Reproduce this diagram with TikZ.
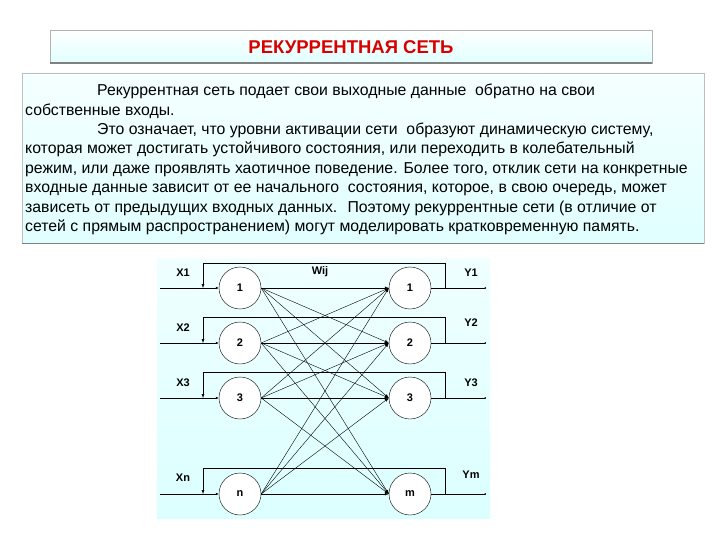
\documentclass[tikz,border=0pt]{standalone}
\usepackage{fontspec}
\setmainfont{Liberation Sans}
\usetikzlibrary{arrows.meta}
\begin{document}
\begin{tikzpicture}[x=1pt,y=-1pt,
  neuron/.style={circle,draw,fill=white,minimum size=42pt,inner sep=0pt,font=\fontsize{11}{12}\selectfont\bfseries},
  lab/.style={font=\fontsize{11}{12}\selectfont\bfseries},
  wire/.style={line width=0.5pt},
  arr/.style={-{Latex[length=4pt,width=3pt]},line width=0.4pt}]
\useasboundingbox (0,0) rectangle (720,540);
\fill[white] (0,0) rectangle (720,540);
% title
\shade[top color=white,bottom color=cyan!12] (50,30) rectangle (652,63);
\draw[gray!60] (50,30) rectangle (652,63);
\draw[gray,line width=1.2pt] (50,63) -- (652,63);
\node[text=red!85!black,font=\fontsize{18.5}{20}\selectfont\bfseries] (title) at (351,47) {РЕКУРРЕНТНАЯ СЕТЬ};
% text box
\shade[top color=cyan!4,bottom color=cyan!12] (22,73) rectangle (704,243);
\draw[gray!50] (22,73) rectangle (704,243);
\draw[gray,line width=1pt] (22,243) -- (704,243);
\node[anchor=north west,align=left,inner sep=0pt,font=\fontsize{15.8}{19.4}\selectfont] (txt) at (25,84) {%
\hspace*{72pt}Рекуррентная сеть подает свои выходные данные \ обратно на свои\\
собственные входы.\\
\hspace*{72pt}Это означает, что уровни активации сети \ образуют динамическую систему,\\
которая может достигать устойчивого состояния, или переходить в колебательный\\
режим, или даже проявлять хаотичное поведение. Более того, отклик сети на конкретные\\
входные данные зависит от ее начального \ состояния, которое, в свою очередь, может\\
зависеть от предыдущих входных данных. \ Поэтому рекуррентные сети (в отличие от\\
сетей с прямым распространением) могут моделировать кратковременную память.};
% diagram panel
\shade[top color=cyan!6,bottom color=cyan!14] (157,258) rectangle (490,518);
% neurons
\foreach \i/\y/\t/\u/\fy in {1/288/1/1/263,2/343/2/2/317,3/398/3/3/372,4/494/n/m/468}{
  \node[neuron] (L\i) at (240,\y) {\t};
  \node[neuron] (R\i) at (410,\y) {\u};
  \coordinate (in\i) at (160,\y);
  \coordinate (fb\i) at (203,\y);
  \coordinate (out\i) at (486,\y);
  \coordinate (tap\i) at (445,\y);
  \draw[wire,-{Latex[length=3pt,width=2.5pt]}] (in\i) -- (L\i.west);
  \draw[wire,-{Circle[length=1.5pt]}] (R\i.east) -- (out\i);
  \draw[wire,-{Latex[length=4pt,width=3pt]}] (tap\i) -- (445,\fy) -- (203,\fy) -- (fb\i);
}
\node[lab] (x1) at (183,273) {X1};
\node[lab] (x2) at (183,328) {X2};
\node[lab] (x3) at (183,383) {X3};
\node[lab] (xn) at (183,478) {Xn};
\node[lab] (y1) at (471,273) {Y1};
\node[lab] (y2) at (471,323) {Y2};
\node[lab] (y3) at (471,383) {Y3};
\node[lab] (ym) at (471,475) {Ym};
\node[lab] (w) at (320,272) {Wij};
\foreach \a in {1,2,3,4}{\foreach \b in {1,2,3,4}{
  \draw[arr] (L\a.east) -- (R\b.west);
}}
\end{tikzpicture}
\end{document}
